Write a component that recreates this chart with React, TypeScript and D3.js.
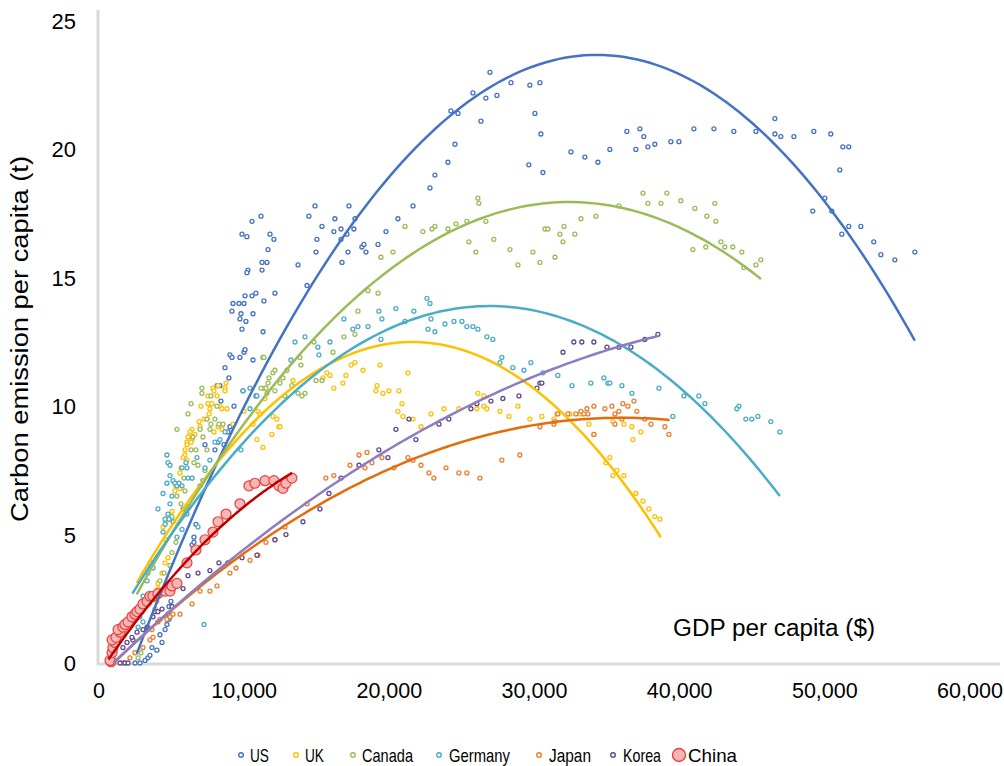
import React from 'react';
import * as d3 from 'd3';

type Pt = [number, number];

// [GDP per capita ($), CO2 per capita (t)]
const usPoints: Pt[] = [
  [2480,0.0],[2820,0.0],[3170,0.1],[3370,0.2],[3510,0.3],[3650,0.6],[3990,0.5],[4200,1.1],[4340,0.8],[4550,1.3],
  [4680,1.5],[4820,1.7],[4820,2.2],[4750,1.9],[4890,1.8],[4960,2.4],[6410,4.6],[6540,4.7],[6540,4.9],[6680,5.4],
  [7300,8.5],[7990,8.3],[8610,8.5],[8200,8.6],[8880,9.0],[9020,9.2],[8400,10.2],[9300,10.0],[9920,10.6],[10810,10.4],
  [8130,10.8],[8330,10.8],[8680,11.5],[8950,11.1],[9020,12.0],[9160,11.9],[9710,11.9],[9990,12.1],[10610,11.8],[10060,12.2],
  [9230,14.0],[9640,14.0],[9990,14.0],[9160,13.7],[9780,13.6],[10610,13.6],[9710,13.4],[10120,13.3],[9850,13.0],[11300,12.9],
  [10060,14.3],[10540,14.3],[10810,14.4],[11360,14.1],[12120,14.4],[10260,15.3],[10190,15.2],[11230,15.3],[11230,15.6],[11570,15.6],
  [11640,16.1],[9850,16.7],[10190,16.6],[10540,17.2],[11160,17.4],[11780,16.7],[12050,16.5],[13710,15.5],[14330,14.7],[14460,17.4],
  [14880,17.8],[15360,17.0],[15010,16.5],[14950,16.0],[16250,17.3],[16180,16.8],[16670,16.9],[16670,16.5],[17080,16.7],[17560,16.9],
  [17630,17.3],[17220,17.8],[17150,16.0],[16740,15.6],[18110,16.2],[18250,16.3],[18390,16.0],[19220,16.3],[19770,16.8],[20590,17.3],
  [21630,17.8],[22800,18.5],[23140,19.0],[24040,19.5],[24520,20.2],[24240,21.5],[24730,21.4],[25760,22.2],[26650,22.0],[26930,23.0],
  [26310,21.1],[27410,22.1],[28380,22.6],[29680,22.5],[30370,22.6],[30030,21.4],[30440,20.6],[29610,19.4],[30580,19.1],[32510,19.9],
  [33470,19.7],[34370,19.5],[35190,20.0],[36360,20.7],[36980,20.0],[37260,20.8],[37530,20.5],[37810,20.1],[38290,20.2],[39390,20.3],
  [39950,20.3],[40980,20.8],[42360,20.8],[43730,20.7],[45250,20.7],[46560,21.2],[46560,20.6],[46970,20.5],[47870,20.5],[49240,20.7],
  [50410,20.6],[51240,20.1],[51650,20.1],[51030,19.2],[50000,18.1],[49170,17.6],[50480,17.6],[51650,17.0],[51170,16.7],[52480,17.0],
  [53370,16.4],[53860,15.9],[54820,15.7],[56200,16.0],
];

const ukPoints: Pt[] = [
  [8200,10.8],[8750,10.9],[8680,10.7],[8680,10.6],[7850,10.7],[7920,10.6],[8130,10.4],[7510,10.4],[7510,10.1],[7780,10.1],
  [7640,9.9],[8330,10.0],[8470,9.9],[8820,9.9],[7020,10.0],[7580,9.7],[7230,9.5],[6890,9.4],[7440,9.5],[6960,9.2],
  [6410,9.1],[6270,9.0],[6610,8.9],[6130,8.8],[6410,8.7],[6060,8.6],[6340,8.6],[6060,8.5],[5920,8.3],[5920,8.1],
  [5790,8.0],[6060,7.9],[5650,7.6],[5580,7.4],[5300,6.9],[5580,6.8],[5230,6.7],[5030,5.9],[4750,5.7],[4610,5.5],
  [4410,5.3],[11980,9.6],[12260,9.5],[12400,9.2],[11910,8.9],[11290,8.4],[10880,8.7],[10950,9.8],[9990,9.8],[9230,9.3],
  [10610,9.3],[8200,9.2],[7920,9.0],[8470,9.1],[16180,10.7],[16800,10.9],[19150,10.8],[19080,10.6],[19560,10.5],[19970,10.6],
  [20590,9.8],[20660,10.6],[12470,9.2],[11090,9.7],[11430,10.3],[13360,11.0],[17360,11.6],[17630,11.7],[18180,11.4],[19350,11.6],
  [17010,11.2],[15700,11.3],[15910,11.2],[15430,11.1],[21280,11.3],[20870,10.1],[20940,9.6],[21630,9.5],[22180,9.2],[22870,9.7],
  [23760,9.9],[24790,9.9],[26030,9.9],[26100,10.5],[26510,10.4],[26510,10.0],[26720,9.9],[27620,9.8],[28240,9.6],[28860,10.0],
  [29680,9.5],[30510,9.6],[31340,9.5],[31540,9.7],[32440,9.7],[33130,9.7],[33750,9.3],[34090,8.9],[35400,9.4],[36160,9.3],
  [36710,9.2],[37330,9.0],[36780,8.7],[35190,8.0],[34920,7.8],[35680,7.5],[35400,7.3],[36160,7.3],[36980,6.6],[37470,6.3],
  [37880,6.0],[38290,5.7],[38640,5.6],[4060,2.9],[4340,2.7],[3990,2.4],[4750,4.1],[4550,3.9],[4340,3.5],[4060,3.1],[4610,4.8],
];

const canadaPoints: Pt[] = [
  [7090,10.7],[7090,10.5],[7710,10.4],[6340,10.1],[6130,9.7],[8130,10.0],[7440,9.5],[7710,9.3],[8260,9.3],[8540,9.3],
  [7990,9.5],[7640,9.1],[6960,9.1],[6470,8.8],[6680,8.3],[6340,8.3],[7160,8.8],[7440,8.3],[6540,7.8],[6820,7.7],
  [7300,7.5],[6410,7.2],[5850,7.2],[5370,9.1],[5920,6.7],[5370,6.5],[5650,6.2],[6130,6.1],[5030,5.7],[5300,4.7],
  [11290,11.9],[11980,11.3],[11640,10.9],[11360,10.7],[11570,10.5],[12120,10.6],[12670,11.1],[12950,11.4],[13290,10.8],[12470,10.9],
  [13840,11.9],[11160,10.7],[11500,10.7],[12810,10.4],[13710,10.5],[13980,10.4],[14190,10.5],[14950,11.0],[15360,11.0],[11360,11.9],
  [11710,11.1],[12120,11.4],[13910,11.6],[14810,12.5],[16120,12.1],[16870,12.7],[17630,12.8],[17840,13.7],[18530,14.5],[19220,14.4],
  [19420,15.8],[20250,16.0],[21080,17.0],[22310,16.8],[22940,16.9],[23140,17.0],[24040,16.9],[24590,17.1],[25340,17.2],[25480,16.4],
  [25960,16.0],[26100,18.1],[26170,17.9],[26650,17.2],[27200,16.5],[30720,16.9],[30920,16.9],[31750,16.7],[32030,17.0],[33200,17.3],
  [34230,17.4],[35810,17.8],[37470,18.3],[37810,17.9],[38710,17.9],[39120,18.3],[40080,18.0],[41050,17.7],[42420,17.9],[41870,17.4],
  [42490,17.2],[40910,16.1],[41800,16.2],[42840,16.4],[43110,16.2],[43660,16.2],[44280,16.0],[44420,15.4],[45250,15.5],[45590,15.7],
  [28310,16.1],[28860,15.5],[29890,16.0],[30370,15.6],[31410,15.8],[31960,16.4],[32780,16.7],
  [5030,4.3],[4890,3.8],[4480,3.5],[4200,3.2],[2690,0.2],[2890,0.4],[3860,2.1],
];

const germanyPoints: Pt[] = [
  [4680,8.1],[4750,7.8],[4890,7.7],[4410,6.6],[4060,6.0],[4680,7.0],[4890,7.3],[5100,7.1],[5230,7.0],[5370,6.9],
  [5510,7.0],[5720,7.6],[6060,7.6],[6130,7.2],[6750,8.0],[6410,7.2],[5030,6.5],[4890,6.2],[4750,5.8],[4550,5.6],
  [4820,5.6],[5100,5.5],[4550,5.4],[5790,6.0],[6060,5.8],[6960,6.9],[7160,7.1],[5720,6.9],[5990,7.8],[4410,5.1],
  [5720,5.2],[5370,4.9],[6820,5.3],[7640,7.9],[7300,7.6],[8330,8.7],[7990,8.6],[9780,8.3],[9920,10.6],[10880,10.4],
  [10400,9.9],[8680,9.0],[10400,10.7],[13500,12.5],[14190,12.7],[15080,12.3],[15150,12.0],[15910,12.5],[13220,11.8],[16870,13.4],
  [17490,13.0],[17840,13.1],[18530,13.1],[19420,12.6],[19280,13.7],[19490,13.4],[20450,13.8],[22590,14.2],[22800,14.0],[21690,13.7],
  [21080,13.3],[22870,13.4],[23830,13.2],[24450,13.3],[25000,13.3],[25340,13.1],[25760,13.1],[26100,13.0],[22660,13.0],[23140,12.9],
  [26720,12.7],[27130,12.6],[27750,11.9],[27620,11.7],[28510,11.5],[29270,11.4],[29750,11.7],[30580,11.3],[31610,11.2],[32580,10.8],
  [33880,10.9],[34780,11.1],[35050,10.9],[35190,10.9],[36020,10.8],[36710,10.5],[38570,10.7],[39530,9.6],[40290,10.4],[41320,10.4],
  [41740,10.1],[44080,10.0],[43940,9.9],[44560,9.5],[44970,9.5],[45390,9.6],[46280,9.4],[46900,9.0],[7230,1.5],
  [3510,3.9],[3720,3.7],[3370,3.5],[3310,3.2],[3030,2.6],[2960,2.3],[2820,1.8],[3030,1.6],[2690,1.4],
];

const japanPoints: Pt[] = [
  [1650,0.0],[2130,0.2],[2480,0.4],[3030,0.6],[3510,0.9],[3720,1.0],[3370,1.4],[3650,1.3],[4060,1.6],[4200,1.7],
  [4680,1.7],[4890,1.8],[5100,1.9],[5580,1.9],[6410,2.3],[6960,2.8],[7640,2.8],[8130,3.0],[9020,3.5],[9440,3.7],
  [10400,4.0],[10950,4.2],[12120,4.8],[11500,4.7],[12810,5.3],[14330,6.2],[15630,7.2],[16180,7.3],[17290,7.7],[17910,8.1],
  [18460,8.2],[18320,7.6],[18800,7.8],[19490,8.0],[20320,7.6],[21280,8.0],[21630,7.9],[22180,7.7],[22730,7.4],[23070,7.2],
  [23900,7.6],[24790,7.4],[25340,7.4],[26240,7.2],[27750,7.9],[28990,8.1],[30370,9.2],[31340,9.3],[31400,9.4],[31610,9.7],
  [32300,9.7],[32850,9.7],[33200,9.8],[33400,9.7],[33610,9.9],[33680,9.7],[34090,10.0],[34090,8.9],[34850,9.9],[35330,10.0],
  [35540,9.7],[35810,9.8],[36090,10.1],[36430,10.0],[36850,10.2],[37050,9.8],[36020,9.5],[35540,9.3],[37600,9.5],[38020,9.3],
  [38980,9.2],[39260,8.9],
];

const koreaPoints: Pt[] = [
  [1450,0.0],[1790,0.0],[2000,0.0],[1650,0.6],[1930,0.8],[2340,0.9],[2270,1.0],[2620,1.2],[3030,1.3],[3310,1.4],
  [3720,1.8],[3860,2.0],[4060,2.0],[4340,2.1],[5030,2.2],[5790,2.9],[6130,3.4],[6820,3.5],[7640,3.6],[8260,3.9],
  [8880,3.9],[9850,4.1],[10880,4.2],[12120,4.8],[12880,5.0],[14050,5.5],[15220,6.0],[15840,6.6],[16670,7.2],[17910,7.7],
  [19280,8.3],[19900,8.0],[20450,9.1],[21350,9.5],[21830,8.7],[23420,9.3],[24100,9.5],[25620,9.9],[26030,10.1],[27000,10.2],
  [27820,10.3],[28930,10.4],[30170,10.7],[30370,10.9],[30510,10.9],[31960,12.1],[32710,12.5],[33260,12.5],[34090,12.5],[34990,12.3],
  [35810,12.3],[36640,12.3],[37600,12.6],[38500,12.8],
];

const chinaPoints: Pt[] = [
  [830,0.05],[760,0.1],[900,0.4],[960,0.6],[1100,0.8],[900,0.9],[1170,1.0],[1450,1.2],[1310,1.3],[1650,1.4],
  [1790,1.5],[2000,1.6],[2270,1.8],[2480,1.9],[2620,2.0],[2820,2.1],[3030,2.3],[3310,2.4],[3510,2.6],[3720,2.6],
  [4060,2.7],[4550,2.8],[4890,2.8],[5030,3.0],[5370,3.1],[6060,3.9],[6680,4.4],[7300,4.8],[7850,5.1],[8200,5.5],
  [8750,5.8],[9710,6.2],[10330,6.9],[10740,7.0],[11430,7.1],[12050,7.1],[12400,6.9],[12670,6.8],[12880,7.0],[13290,7.2],
];

const seriesNames = ['US', 'UK', 'Canada', 'Germany', 'Japan', 'Korea', 'China'];
const seriesPoints = [usPoints, ukPoints, canadaPoints, germanyPoints, japanPoints, koreaPoints, chinaPoints];
const markerColors = ['#4472c4', '#ffc000', '#9bbb59', '#4bacc6', '#ed7d31', '#5f4b8b', '#e8423d'];
const lineColors = ['#4472c4', '#ffc000', '#9bbb59', '#4bacc6', '#e46c0a', '#8e7cc3', '#c00000'];

// Polynomial (order 2) trendlines: vertex and curvature (per (thousand $)^2)
const trendVertexGdp = [34300, 21600, 32400, 26900, 36000, 51500, 22120];
const trendVertexCo2 = [23.68, 12.5, 17.95, 13.9, 9.55, 13.635, 8.876];
const trendCurvature = [0.0232, 0.026, 0.0172, 0.0185, 0.0078, 0.005343, 0.01896];
const trendStart = [2600, 2600, 2600, 2300, 1000, 1000, 650];
const trendEnd = [56200, 38700, 45600, 46900, 39300, 38500, 13300];

const xTicks = [0, 10000, 20000, 30000, 40000, 50000, 60000];
const yTicks = [0, 5, 10, 15, 20, 25];

const W = 1004;
const H = 766;
const FONT = "'Liberation Sans', Arial, Helvetica, sans-serif";

export default function App() {
  const x = d3.scaleLinear().domain([0, 60000]).range([99, 970]);
  const y = d3.scaleLinear().domain([0, 25]).range([663, 21]);
  const fmt = d3.format(',');

  const trendPaths = seriesNames.map((_, i) => {
    const n = 120;
    const pts: Pt[] = d3.range(n + 1).map((j) => {
      const g = trendStart[i] + ((trendEnd[i] - trendStart[i]) * j) / n;
      const dx = (g - trendVertexGdp[i]) / 1000;
      return [g, trendVertexCo2[i] - trendCurvature[i] * dx * dx];
    });
    return d3.line<Pt>().x((d) => x(d[0])).y((d) => y(d[1]))(pts) || '';
  });

  const legendItems = [
    { mx: 241, tx: 250, w: 19 },
    { mx: 296, tx: 305, w: 19 },
    { mx: 353, tx: 362, w: 51 },
    { mx: 439, tx: 449, w: 61 },
    { mx: 539, tx: 549, w: 42 },
    { mx: 613, tx: 623, w: 38 },
    { mx: 679, tx: 688, w: 49 },
  ];

  return (
    <svg width={W} height={H} style={{ position: 'absolute', left: 0, top: 0, background: '#fff' }}>
      <rect x={0} y={0} width={W} height={H} fill="#fff" />
      {/* axes */}
      <line x1={98} x2={98} y1={10} y2={665} stroke="#d9d9d9" strokeWidth={3} />
      <line x1={97} x2={1000} y1={664} y2={664} stroke="#d9d9d9" strokeWidth={3} />

      {/* points */}
      {seriesPoints.map((pts, i) =>
        i === 6 ? null : (
          <g key={seriesNames[i]}>
            {pts.map((p, j) => (
              <circle key={j} cx={x(p[0])} cy={y(p[1])} r={2} fill="#fff" stroke={markerColors[i]} strokeWidth={1.3} />
            ))}
          </g>
        )
      )}
      <g>
        {chinaPoints.map((p, j) => (
          <circle key={j} cx={x(p[0])} cy={y(p[1])} r={5} fill="#f5b7b5" stroke={markerColors[6]} strokeWidth={1.2} />
        ))}
      </g>

      {/* trendlines */}
      {trendPaths.map((d, i) => (
        <path key={i} d={d} fill="none" stroke={lineColors[i]} strokeWidth={2.5} />
      ))}

      {/* tick labels */}
      {xTicks.map((t) => (
        <text key={t} x={x(t)} y={698} textAnchor="middle" fontFamily={FONT} fontSize={21.5} fill="#000">
          {fmt(t)}
        </text>
      ))}
      {yTicks.map((t) => (
        <text key={t} x={76} y={y(t) + 8} textAnchor="end" fontFamily={FONT} fontSize={22} fill="#000">
          {t}
        </text>
      ))}

      {/* axis titles */}
      <text
        transform={`translate(28, 339) rotate(-90)`}
        textAnchor="middle"
        fontFamily={FONT}
        fontSize={23}
        textLength={366}
        lengthAdjust="spacingAndGlyphs"
        fill="#000"
      >
        Carbon emission per capita (t)
      </text>
      <text x={673} y={636} fontFamily={FONT} fontSize={23} textLength={202} lengthAdjust="spacingAndGlyphs" fill="#000">
        GDP per capita ($)
      </text>

      {/* legend */}
      {seriesNames.map((name, i) => (
        <g key={name}>
          {i === 6 ? (
            <circle cx={legendItems[i].mx} cy={755} r={6.5} fill="#f5b7b5" stroke={markerColors[6]} strokeWidth={1.4} />
          ) : (
            <circle cx={legendItems[i].mx} cy={755} r={2.3} fill="#fff" stroke={markerColors[i]} strokeWidth={1.4} />
          )}
          <text
            x={legendItems[i].tx}
            y={762}
            fontFamily={FONT}
            fontSize={19}
            textLength={legendItems[i].w}
            lengthAdjust="spacingAndGlyphs"
            fill="#000"
          >
            {name}
          </text>
        </g>
      ))}
    </svg>
  );
}
